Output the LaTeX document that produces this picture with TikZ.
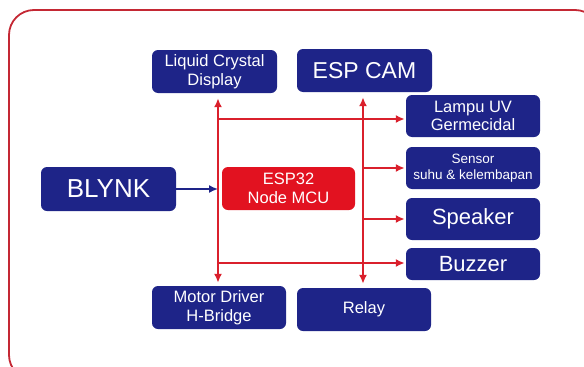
\documentclass[tikz,border=0pt]{standalone}
\usepackage{fontspec}
\setmainfont{Liberation Sans}
\usetikzlibrary{arrows.meta, positioning, calc}
\definecolor{boxnavy}{RGB}{30,36,136}
\definecolor{mcured}{RGB}{226,18,32}
\definecolor{busred}{RGB}{218,32,44}
\definecolor{framered}{RGB}{196,40,52}
\tikzset{
  bustip/.tip={Latex[length=9pt, width=8pt]},
  blockbox/.style={fill=boxnavy, text=white, rounded corners=6pt, align=center, inner sep=0pt},
  mcubox/.style={blockbox, fill=mcured},
  busline/.style={busred, line width=2.6pt, -bustip},
  linkline/.style={boxnavy, line width=1.6pt, -bustip},
}
\begin{document}
\begin{tikzpicture}[x=1pt, y=-1pt]
  \useasboundingbox (0,0) rectangle (584,367);
  % Outer frame
  \draw[framered, line width=1.8pt, rounded corners=25pt] (9,10) rectangle (600,380);

  % Blocks
  \node[blockbox, minimum width=125pt, minimum height=43pt, font=\fontsize{16.5}{18.5}\selectfont] (lcd) at (214.5,71.5) {Liquid Crystal\\Display};
  \node[blockbox, minimum width=135pt, minimum height=43pt, font=\fontsize{23}{25}\selectfont] (cam) at (364.5,70.5) {ESP CAM};
  \node[blockbox, minimum width=134pt, minimum height=42pt, font=\fontsize{16.5}{18.5}\selectfont] (lampu) at (473,116) {Lampu UV\\Germecidal};
  \node[blockbox, minimum width=134pt, minimum height=42pt, font=\fontsize{13.5}{15.5}\selectfont] (sensor) at (473,168) {Sensor\\suhu \& kelembapan};
  \node[blockbox, minimum width=134pt, minimum height=42pt, font=\fontsize{22}{24}\selectfont] (speaker) at (473,219) {Speaker};
  \node[blockbox, minimum width=134pt, minimum height=32pt, font=\fontsize{22}{24}\selectfont] (buzzer) at (473,264) {Buzzer};
  \node[blockbox, minimum width=134pt, minimum height=43pt, font=\fontsize{16.5}{18.5}\selectfont] (motor) at (219,307.5) {Motor Driver\\H-Bridge};
  \node[blockbox, minimum width=134pt, minimum height=43pt, font=\fontsize{16.5}{18.5}\selectfont] (relay) at (364,309.5) {Relay};
  \node[blockbox, minimum width=135pt, minimum height=44pt, font=\fontsize{26}{28}\selectfont] (blynk) at (108.5,189) {BLYNK};
  \node[mcubox, minimum width=133pt, minimum height=43pt, font=\fontsize{16.5}{18.5}\selectfont] (esp) at (288.5,188.5) {ESP32\\Node MCU};

  % Bus corners
  \coordinate (tl) at (218,119);
  \coordinate (tr) at (363,119);
  \coordinate (bl) at (218,263);
  \coordinate (br) at (363,263);

  % Vertical bus lines
  \draw[busline, bustip-bustip, shorten <=5pt, shorten >=3pt] (tl |- lcd.south) -- (bl |- motor.north);
  \draw[busline, bustip-bustip, shorten <=5pt, shorten >=4pt] (tr |- cam.south) -- (br |- relay.north);

  % Horizontal bus lines
  \draw[busline, shorten >=1pt] (tl) -- (tl -| lampu.west);
  \draw[busline, shorten >=1pt] (tr |- sensor.west) -- (sensor.west);
  \draw[busline, shorten >=1pt] (tr |- speaker.west) -- (speaker.west);
  \draw[busline, shorten >=1pt] (bl) -- (bl -| buzzer.west);

  % BLYNK input
  \draw[linkline] (blynk.east) -- (blynk.east -| tl);
\end{tikzpicture}
\end{document}
